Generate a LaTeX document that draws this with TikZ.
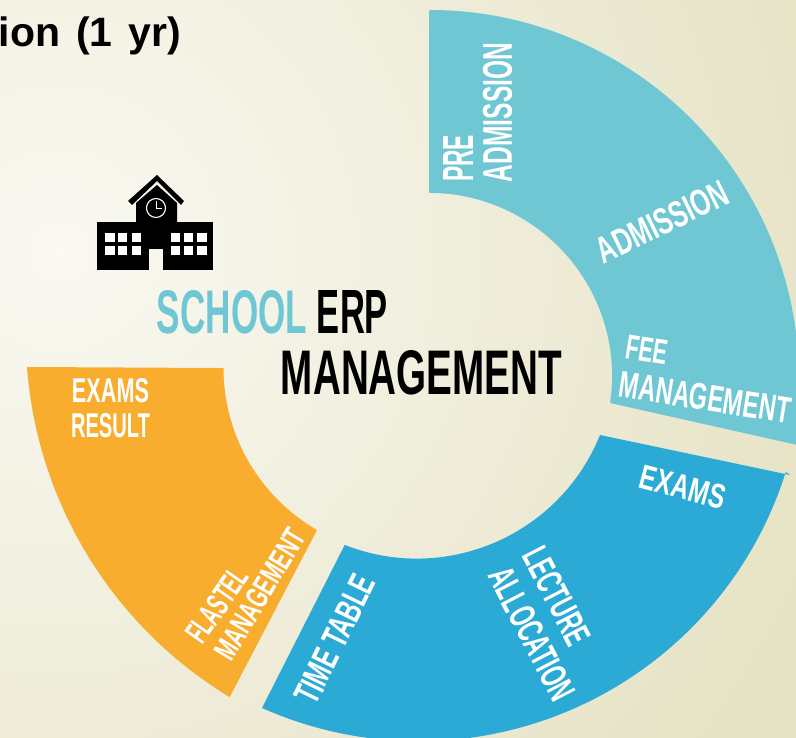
\documentclass[tikz,border=0pt]{standalone}
\usepackage{fontspec}
\setmainfont{Liberation Sans}
\definecolor{tealseg}{HTML}{6EC7D3}
\definecolor{blueseg}{HTML}{2BAAD5}
\definecolor{orangeseg}{HTML}{F9AD2F}
\definecolor{bginner}{HTML}{FAF9F2}
\definecolor{bgouter}{HTML}{E5E2C4}
\newcommand{\fittext}[3]{\resizebox{#1pt}{#2pt}{\bfseries #3}}
\tikzset{
  seglabel/.style={inner sep=0pt,outer sep=0pt,text=white},
  headlabel/.style={inner sep=0pt,outer sep=0pt,text=black},
  iconwin/.style={fill=white}
}
\begin{document}
\begin{tikzpicture}[x=1pt,y=1pt]
\useasboundingbox (0,0) rectangle (796,738);
\clip (0,0) rectangle (796,738);

% background
\shade[inner color=bginner,outer color=bgouter] (-770,-342) rectangle (890,1318);

% ring segments
\fill[tealseg,rounded corners=1pt] (429,728) arc[start angle=90,end angle=-6,radius=370] -- (802,292) -- (610,335) arc[start angle=-8.5,end angle=90,radius=183] -- cycle;
\fill[blueseg] (600,303) arc[start angle=-22,end angle=-111.4,radius=197.6] -- (262,30) arc[start angle=-114,end angle=-17.5,radius=385] -- (790,263) -- cycle;
\fill[orangeseg] (27,371) arc[start angle=184.3,end angle=238.8,radius=423] -- (317,208) arc[start angle=240,end angle=180,radius=187] -- cycle;

% title
\node[headlabel,anchor=base east,font=\bfseries\fontsize{41}{41}\selectfont] (title) at (181,691) {\spaceskip=16pt ion (1 yr)};

% centre text
\node[headlabel,text=tealseg] (school) at (232,426) {\fittext{150}{43}{SCHOOL}};
\node[headlabel] (erp) at (352.5,426) {\fittext{71}{43}{ERP}};
\node[headlabel] (mgmt) at (421.5,365.5) {\fittext{281}{44}{MANAGEMENT}};

% teal labels
\node[seglabel,rotate=90] (pre) at (458,579.5) {\fittext{47}{30}{PRE}};
\node[seglabel,rotate=90] (adm) at (497.5,625.5) {\fittext{139}{29}{ADMISSION}};
\node[seglabel,rotate=26] (admission) at (662,516) {\fittext{142}{26}{ADMISSION}};
\node[seglabel,rotate=-9] (fee) at (647,388) {\fittext{42}{24}{FEE}};
\node[seglabel,rotate=-9] (feemgmt) at (705,340.5) {\fittext{173}{26}{MANAGEMENT}};

% blue labels
\node[seglabel,rotate=-15] (exams) at (683,251) {\fittext{87}{24}{EXAMS}};
\node[seglabel,rotate=-62.6] (lecture) at (557,142) {\fittext{105}{26}{LECTURE}};
\node[seglabel,rotate=-62.5] (alloc) at (532,104) {\fittext{145}{26}{ALLOCATION}};
\node[seglabel,rotate=64] (timetable) at (335,99) {\fittext{139}{25}{TIME TABLE}};

% orange labels
\node[seglabel] (result1) at (110.5,347) {\fittext{77}{24}{EXAMS}};
\node[seglabel] (result2) at (110.5,312) {\fittext{79}{24}{RESULT}};
\node[seglabel,rotate=55] (hostel) at (217,133) {\fittext{84}{23}{FLASTEL}};
\node[seglabel,rotate=59] (hostelmgmt) at (260,144) {\fittext{147}{22}{MANAGEMENT}};

% school icon
\fill (97,516) rectangle (149,468);
\fill (163,516) rectangle (213,468);
\fill (149,516) rectangle (163,489);
\fill (136,516) -- (136,535) -- (157,553) -- (177,535) -- (177,516) -- cycle;
\fill (157,563) -- (184,537) -- (181,533) -- (157,557) -- (132,533) -- (128,537) -- cycle;
\draw[white,line width=1.1pt] (156,530) circle (9.5);
\draw[white,line width=0.6pt] (156,537) -- (156,530) -- (162,530);
\foreach \wx/\ww in {105/9.5,118/9,132/9,171/9,184/9,197/10}{
  \fill[iconwin] (\wx,504.5) rectangle ++(\ww,-8.5);
  \fill[iconwin] (\wx,492) rectangle ++(\ww,-9);
}
\end{tikzpicture}
\end{document}
